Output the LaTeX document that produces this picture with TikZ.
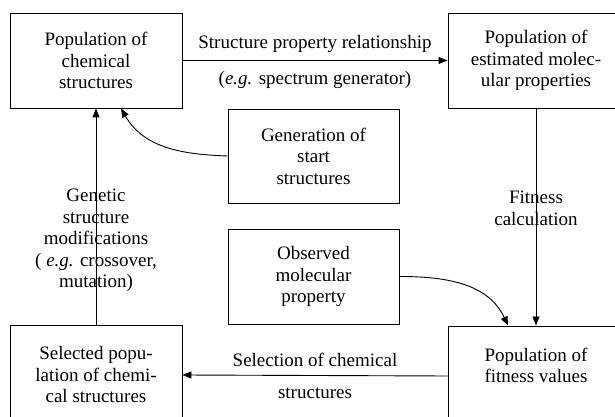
\documentclass[tikz,border=0pt]{standalone}
\usepackage{fontspec}
\setmainfont{Liberation Serif}
\usetikzlibrary{arrows.meta}
\begin{document}
\begin{tikzpicture}[x = 1pt, y = 1pt, line width = .9pt, >={Triangle[length = 9pt, width = 7pt]},
	box/.style = {draw, align = center, inner sep = 0pt, font = \fontsize{19}{21.5}\selectfont},
	lbl/.style = {align = center, font = \fontsize{19}{21.5}\selectfont}]
	\useasboundingbox (0, 0) rectangle (615, 417);
	\clip (0, 0) rectangle (615, 417);
	\def\bw{172} \def\bh{95}
	\node[box, minimum width = \bw, minimum height = \bh] (popchem) at (96, 356.5) {Population of\\chemical\\structures};
	\node[box, minimum width = 176, minimum height = \bh] (popest) at (536, 356.5) {Population of\\estimated molec-\\ular properties};
	\node[box, minimum width = 171, minimum height = 94] (gen) at (313.5, 261) {Generation of\\start\\structures};
	\node[box, minimum width = 171, minimum height = \bh] (obs) at (313.5, 140.5) {Observed\\molecular\\property};
	\node[box, minimum width = \bw, minimum height = 100] (sel) at (96, 42) {Selected popu-\\lation of chemi-\\cal structures};
	\node[box, minimum width = 176, minimum height = 100] (fit) at (536, 41) {Population of\\fitness values\\\mbox{}};
	\draw[->] (popchem.east)--(popest.west)
		node[lbl, midway, above = 4pt]{Structure property relationship}
		node[lbl, midway, below = 7pt]{(\textit{e.g.} spectrum generator)};
	\draw[->] (fit.west)--(sel.east)
		node[lbl, midway, above = 5pt]{Selection of chemical}
		node[lbl, midway, below = 9pt]{structures};
	\draw[->] (popest.south)--(fit.north)node[lbl, pos = .46]{Fitness\\calculation};
	\draw[->] (sel.north)--(popchem.south)node[lbl, pos = .39]{Genetic\\structure\\modifications\\( \textit{e.g.} crossover,\\mutation)};
	\draw[->] (gen.west) to[out = 178, in = -60] ([xshift = 25]popchem.south);
	\draw[->] (obs.east) to[out = 0, in = 115] ([xshift = -28]fit.north);
\end{tikzpicture}
\end{document}
